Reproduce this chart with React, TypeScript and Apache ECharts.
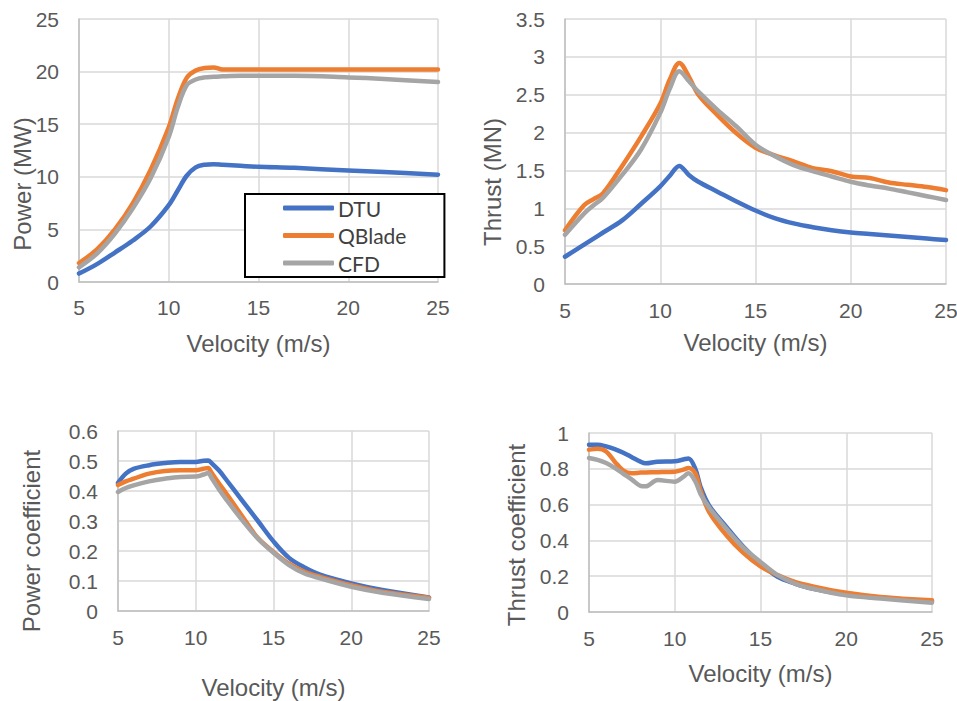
import React, { useEffect, useRef } from "react";
import * as echarts from "echarts";

const SERIES_NAMES = ["DTU", "QBlade", "CFD"];
const COLORS = ["#4472C4", "#ED7D31", "#A5A5A5"];

// Chart 1: Power (MW)
const V1 = [5, 6, 7, 8, 9, 10, 10.5, 11, 11.5, 12, 12.5, 13, 14, 15, 17, 20, 22, 25];
const P_DTU = [0.8, 1.7, 2.8, 3.95, 5.3, 7.3, 8.7, 10.1, 10.9, 11.15, 11.2, 11.15, 11.05, 10.95, 10.85, 10.6, 10.45, 10.2];
const P_QB = [1.8, 3.1, 5.0, 7.5, 10.7, 14.7, 17.4, 19.4, 20.1, 20.35, 20.4, 20.2, 20.2, 20.2, 20.2, 20.2, 20.2, 20.2];
const P_CFD = [1.4, 2.7, 4.6, 7.0, 9.9, 13.8, 16.6, 18.7, 19.25, 19.45, 19.5, 19.55, 19.6, 19.6, 19.6, 19.45, 19.3, 19.0];

// Chart 2: Thrust (MN)
const V2 = [5, 6, 6.5, 7, 8, 9, 10, 10.5, 11, 11.5, 12, 13, 14, 15, 16, 17, 18, 19, 20, 21, 22, 23, 24, 25];
const T_DTU = [0.36, 0.52, 0.6, 0.68, 0.84, 1.06, 1.29, 1.43, 1.56, 1.44, 1.35, 1.22, 1.09, 0.97, 0.87, 0.8, 0.75, 0.71, 0.68, 0.66, 0.64, 0.62, 0.6, 0.58];
const T_QB = [0.71, 1.04, 1.12, 1.2, 1.56, 1.95, 2.38, 2.7, 2.92, 2.74, 2.5, 2.23, 1.99, 1.8, 1.7, 1.62, 1.53, 1.49, 1.42, 1.4, 1.34, 1.31, 1.28, 1.24];
const T_CFD = [0.65, 0.93, 1.04, 1.14, 1.44, 1.78, 2.26, 2.58, 2.81, 2.68, 2.54, 2.3, 2.08, 1.84, 1.69, 1.57, 1.49, 1.42, 1.35, 1.3, 1.26, 1.21, 1.16, 1.11];

// Chart 3: Power coefficient
const V3 = [5, 5.5, 6, 7, 8, 9, 10, 10.5, 10.8, 11, 11.5, 12, 13, 14, 15, 16, 17, 18, 20, 22, 25];
const CP_DTU = [0.427, 0.458, 0.474, 0.486, 0.493, 0.497, 0.497, 0.501, 0.502, 0.494, 0.468, 0.435, 0.367, 0.3, 0.232, 0.177, 0.145, 0.121, 0.092, 0.07, 0.045];
const CP_QB = [0.42, 0.432, 0.441, 0.458, 0.467, 0.469, 0.469, 0.474, 0.477, 0.462, 0.425, 0.389, 0.315, 0.243, 0.197, 0.158, 0.131, 0.114, 0.086, 0.064, 0.044];
const CP_CFD = [0.397, 0.41, 0.419, 0.432, 0.441, 0.447, 0.448, 0.455, 0.46, 0.445, 0.405, 0.369, 0.302, 0.241, 0.194, 0.153, 0.125, 0.109, 0.081, 0.061, 0.04];

// Chart 4: Thrust coefficient
const V4 = [5, 5.5, 6, 6.5, 7, 7.5, 8, 8.3, 9, 10, 10.5, 10.8, 11.2, 11.5, 12, 13, 14, 15, 16, 17, 18, 20, 22, 25];
const CT_DTU = [0.935, 0.935, 0.925, 0.91, 0.89, 0.865, 0.84, 0.831, 0.84, 0.842, 0.852, 0.858, 0.8, 0.7, 0.595, 0.477, 0.364, 0.271, 0.196, 0.159, 0.131, 0.097, 0.079, 0.06];
const CT_QB = [0.907, 0.912, 0.897, 0.84, 0.79, 0.775, 0.779, 0.78, 0.781, 0.784, 0.795, 0.805, 0.775, 0.68, 0.56, 0.43, 0.33, 0.255, 0.206, 0.168, 0.144, 0.107, 0.084, 0.065];
const CT_CFD = [0.86, 0.85, 0.832, 0.805, 0.772, 0.74, 0.705, 0.702, 0.737, 0.728, 0.755, 0.775, 0.73, 0.66, 0.585, 0.467, 0.36, 0.28, 0.206, 0.159, 0.131, 0.093, 0.075, 0.052];

const X_NAME = "Velocity (m/s)";
const Y_NAMES = ["Power (MW)", "Thrust (MN)", "Power coefficient", "Thrust coefficient"];
const Y_RANGES = [
  [0, 25, 5],
  [0, 3.5, 0.5],
  [0, 0.6, 0.1],
  [0, 1, 0.2],
];

const FONT = "'Liberation Sans', Arial, sans-serif";
const TEXT = "#595959";

export default function App() {
  const ref = useRef<HTMLDivElement>(null);
  useEffect(() => {
    if (!ref.current) return;
    const chart = echarts.init(ref.current, null, { renderer: "svg" });

    const grids = [
      { left: 79, top: 19, width: 359, height: 263 },
      { left: 565, top: 19, width: 381, height: 265 },
      { left: 118, top: 431, width: 311, height: 180 },
      { left: 589, top: 433, width: 343, height: 179 },
    ].map((g) => ({ ...g, containLabel: false, outerBoundsMode: "none" }));
    const xNameGaps = [49, 46, 64, 49];
    const xLabelMargins = [15, 16, 16, 16];
    const yNamePos = [
      [22, 184],
      [492, 182],
      [31, 541],
      [516, 535],
    ];

    const xs = [V1, V2, V3, V4];
    const ys = [
      [P_DTU, P_QB, P_CFD],
      [T_DTU, T_QB, T_CFD],
      [CP_DTU, CP_QB, CP_CFD],
      [CT_DTU, CT_QB, CT_CFD],
    ];

    const xAxis = grids.map((_, i) => ({
      type: "value",
      gridIndex: i,
      min: 5,
      max: 25,
      interval: 5,
      name: X_NAME,
      nameLocation: "middle",
      nameGap: xNameGaps[i],
      nameTextStyle: { fontFamily: FONT, fontSize: 24, color: TEXT },
      axisLine: { show: true, lineStyle: { color: "#BFBFBF", width: 1.5 } },
      axisTick: { show: false },
      axisLabel: { fontFamily: FONT, fontSize: 21, color: TEXT, margin: xLabelMargins[i] },
      splitLine: { show: true, lineStyle: { color: "#D9D9D9", width: 1.5 } },
    }));

    const yAxis = grids.map((_, i) => ({
      type: "value",
      gridIndex: i,
      min: Y_RANGES[i][0],
      max: Y_RANGES[i][1],
      interval: Y_RANGES[i][2],
      axisLine: { show: true, lineStyle: { color: "#BFBFBF", width: 1.5 } },
      axisTick: { show: false },
      axisLabel: { fontFamily: FONT, fontSize: 21, color: TEXT, margin: 20 },
      splitLine: { show: true, lineStyle: { color: "#D9D9D9", width: 1.5 } },
    }));

    const series: any[] = [];
    ys.forEach((group, gi) => {
      group.forEach((vals, si) => {
        series.push({
          type: "line",
          name: SERIES_NAMES[si],
          xAxisIndex: gi,
          yAxisIndex: gi,
          data: xs[gi].map((x, k) => [x, vals[k]]),
          smooth: 0.35,
          showSymbol: false,
          symbol: "none",
          lineStyle: { color: COLORS[si], width: 4.5, cap: "round", join: "round" },
          itemStyle: { color: COLORS[si] },
          z: 2 + si,
        });
      });
    });

    const graphic = Y_NAMES.map((name, i) => ({
      type: "text",
      x: yNamePos[i][0],
      y: yNamePos[i][1],
      rotation: Math.PI / 2,
      style: {
        text: name,
        fontFamily: FONT,
        fontSize: 24,
        fill: TEXT,
        align: "center",
        verticalAlign: "middle",
      },
    }));

    chart.setOption({
      animation: false,
      backgroundColor: "#ffffff",
      grid: grids,
      xAxis,
      yAxis,
      series,
      graphic,
      legend: {
        data: SERIES_NAMES,
        orient: "vertical",
        left: 245,
        top: 194,
        backgroundColor: "#ffffff",
        borderColor: "#000000",
        borderWidth: 2,
        borderRadius: 0,
        padding: [3, 38, 3, 38],
        itemGap: 5.5,
        itemWidth: 51,
        itemHeight: 5,
        icon: "roundRect",
        textStyle: { fontFamily: "Lato, 'Noto Sans', sans-serif", fontSize: 21, color: "#404040", lineHeight: 22, padding: [0, 0, 0, -1] },
      },
    });

    return () => chart.dispose();
  }, []);

  return (
    <div
      ref={ref}
      style={{ position: "absolute", left: 0, top: 0, width: 957, height: 701, background: "#fff" }}
    />
  );
}
